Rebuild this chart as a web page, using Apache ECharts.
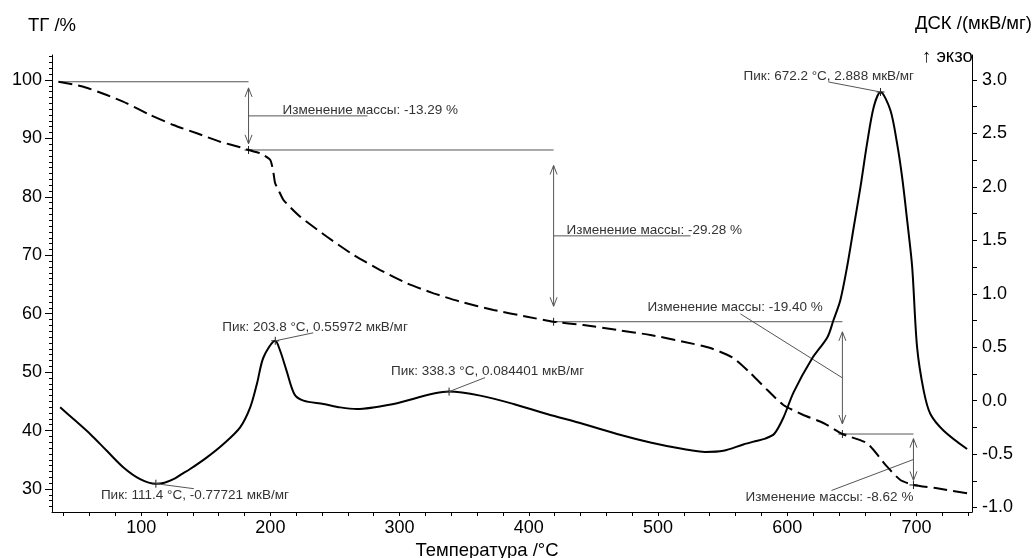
<!DOCTYPE html>
<html>
<head>
<meta charset="utf-8">
<script src="https://cdn.jsdelivr.net/npm/echarts@6.0.0/dist/echarts.min.js"></script>
<style>
  html, body { margin: 0; padding: 0; background: #fff; }
  #chart { width: 1034px; height: 558px; }
</style>
</head>
<body>
<div id="chart"></div>
<script>
// ---- Thermogravimetric curve (ТГ, %) ----
const tgTemps = [36.0, 55.3, 73.4, 88.9, 107.0, 125.0, 143.1, 161.2, 176.6, 183.1, 192.1, 199.9, 202.4, 203.7, 206.3, 210.2, 223.1, 243.8, 264.4, 285.0, 305.7, 326.3, 347.0, 372.7, 398.6, 419.2, 442.2, 468.5, 494.1, 519.6, 540.5, 558.3, 571.5, 584.6, 597.0, 612.5, 628.0, 642.7, 661.8, 677.3, 687.6, 697.7, 716.0, 739.2];
const tgValues = [99.7, 98.85, 97.43, 96.01, 94.01, 92.30, 90.88, 89.44, 88.48, 88.02, 87.45, 86.31, 84.08, 82.32, 81.17, 79.46, 76.60, 73.18, 70.05, 67.48, 65.20, 63.49, 62.06, 60.64, 59.49, 58.63, 58.07, 57.21, 56.36, 55.21, 54.13, 52.42, 49.85, 46.94, 44.38, 42.67, 41.30, 39.41, 37.82, 33.82, 31.54, 30.69, 30.12, 29.26];

// ---- DSC curve (мкВ/мг) ----
const dscTemps = [37.3, 47.6, 60.5, 73.4, 86.3, 99.2, 111.4, 118.0, 125.0, 131.0, 137.9, 150.9, 163.7, 176.6, 184.4, 189.6, 194.7, 203.8, 207.5, 212.5, 218.5, 225.6, 241.1, 254.1, 267.0, 295.3, 338.3, 362.4, 388.2, 414.1, 442.2, 468.3, 494.1, 519.6, 536.7, 550.6, 566.0, 575.0, 583.0, 590.0, 597.0, 605.0, 619.0, 631.1, 635.7, 641.1, 646.3, 651.5, 656.7, 661.8, 667.0, 672.2, 679.8, 685.0, 688.9, 692.8, 696.7, 700.5, 705.6, 710.8, 721.1, 739.2];
const dscValues = [-0.063, -0.172, -0.312, -0.469, -0.625, -0.734, -0.77721, -0.768, -0.735, -0.690, -0.640, -0.531, -0.406, -0.250, -0.063, 0.157, 0.406, 0.55972, 0.469, 0.281, 0.063, 0.0, -0.031, -0.063, -0.078, -0.031, 0.084401, 0.047, -0.031, -0.125, -0.218, -0.312, -0.391, -0.453, -0.480, -0.469, -0.410, -0.380, -0.355, -0.310, -0.160, 0.080, 0.390, 0.593, 0.750, 0.940, 1.250, 1.625, 2.000, 2.407, 2.750, 2.888, 2.719, 2.407, 2.093, 1.688, 1.250, 0.500, 0.094, -0.125, -0.281, -0.453];

// ---- DSC peaks ----
const peakTemps = [111.4, 203.8, 338.3, 672.2];
const peakValues = [-0.77721, 0.55972, 0.084401, 2.888];

// ---- Mass-loss steps ----
const stepTemps = [183.1, 419.2, 642.7, 697.7];
const stepLevels = [99.7, 88.02, 58.63, 39.41, 30.69];
const stepChanges = ['-13.29', '-29.28', '-19.40', '-8.62'];

// ---- Axis ticks ----
const xLabelTicks = [100, 200, 300, 400, 500, 600, 700];
const xMinorTicks = [40, 60, 80, 100, 120, 140, 160, 180, 200, 220, 240, 260, 280, 300, 320, 340, 360, 380, 400, 420, 440, 460, 480, 500, 520, 540, 560, 580, 600, 620, 640, 660, 680, 700, 720, 740];
const tgLabelTicks = [30, 40, 50, 60, 70, 80, 90, 100];
const tgMinorTicks = [27, 28, 29, 31, 32, 33, 34, 35, 36, 37, 38, 39, 41, 42, 43, 44, 45, 46, 47, 48, 49, 51, 52, 53, 54, 55, 56, 57, 58, 59, 61, 62, 63, 64, 65, 66, 67, 68, 69, 71, 72, 73, 74, 75, 76, 77, 78, 79, 81, 82, 83, 84, 85, 86, 87, 88, 89, 91, 92, 93, 94, 95, 96, 97, 98, 99, 101, 102, 103, 104];
const dscLabelTicks = [-1.0, -0.5, 0.0, 0.5, 1.0, 1.5, 2.0, 2.5, 3.0];
const dscMinorTicks = [-1.0, -0.75, -0.5, -0.25, 0.0, 0.25, 0.5, 0.75, 1.0, 1.25, 1.5, 1.75, 2.0, 2.25, 2.5, 2.75, 3.0];

// ---- Styles / layout ----
const FONT = '"Liberation Sans", Arial, sans-serif';
const annColor = '#555';
const annText = '#333';
const annFont = '13.5px ' + FONT;

// label placement relative to each step's arrow midpoint (pixels)
const stepLayout = [
  { kind: 'under', dx: 34, len: 119 },
  { kind: 'under', dx: 13, len: 137 },
  { kind: 'slant', tx: -195, ty: -64, va: 'bottom', lx: -102, ly: -64 },
  { kind: 'slant', tx: -168, ty: 31, va: 'top', lx: -82, ly: 31 }
];
// label placement relative to each peak mark (pixels)
const peakLayout = [
  { tx: -55, ty: 5, va: 'top', lx: 38, ly: 5 },
  { tx: -53, ty: -7, va: 'bottom', lx: 38, ly: -8 },
  { tx: -58, ty: -13, va: 'bottom', lx: 36, ly: -14 },
  { tx: -137, ty: -9, va: 'bottom', lx: -52, ly: -10 }
];

function seg(x1, y1, x2, y2, color) {
  return { type: 'line', shape: { x1, y1, x2, y2 }, style: { stroke: color || annColor, lineWidth: 1 } };
}
function cross(x, y) {
  return [seg(x - 4, y, x + 4, y, '#222'), seg(x, y - 4, x, y + 4, '#222')];
}
function label(text, x, y, va) {
  return { type: 'text', style: { text, x, y, fill: annText, font: annFont, align: 'left', verticalAlign: va } };
}

function renderStep(params, api) {
  const i = params.dataIndex;
  const t = stepTemps[i];
  const top = api.coord([t, stepLevels[i]]);
  const bot = api.coord([t, stepLevels[i + 1]]);
  const x = top[0];
  const children = [];
  if (i === 0) {
    const s = api.coord([tgTemps[0], stepLevels[0]]);
    children.push(seg(s[0], s[1], x, top[1]));
  }
  if (i + 1 < stepTemps.length) {
    const e = api.coord([stepTemps[i + 1], stepLevels[i + 1]]);
    children.push(seg(x, bot[1], e[0], bot[1]));
  }
  const h = bot[1] - top[1];
  const inset = 0.09 * h;
  const a = top[1] + inset, b = bot[1] - inset;
  children.push(seg(x, a, x, b));
  children.push({ type: 'polyline', shape: { points: [[x - 3.5, a + 9], [x, a], [x + 3.5, a + 9]] }, style: { stroke: annColor, fill: null, lineWidth: 1 } });
  children.push({ type: 'polyline', shape: { points: [[x - 3.5, b - 9], [x, b], [x + 3.5, b - 9]] }, style: { stroke: annColor, fill: null, lineWidth: 1 } });
  children.push(...cross(x, bot[1]));
  const my = (top[1] + bot[1]) / 2;
  const L = stepLayout[i];
  const txt = 'Изменение массы: ' + stepChanges[i] + ' %';
  if (L.kind === 'under') {
    children.push(seg(x, my, x + L.len, my));
    children.push(label(txt, x + L.dx, my + 1, 'bottom'));
  } else {
    children.push(seg(x, my, x + L.lx, my + L.ly));
    children.push(label(txt, x + L.tx, my + L.ty, L.va));
  }
  return { type: 'group', children };
}

function renderPeak(params, api) {
  const i = params.dataIndex;
  const p = api.coord([peakTemps[i], peakValues[i]]);
  const L = peakLayout[i];
  const txt = 'Пик: ' + peakTemps[i] + ' °C, ' + peakValues[i] + ' мкВ/мг';
  return {
    type: 'group',
    children: [
      ...cross(p[0], p[1]),
      seg(p[0], p[1], p[0] + L.lx, p[1] + L.ly),
      label(txt, p[0] + L.tx, p[1] + L.ty, L.va)
    ]
  };
}

const zip = (a, b) => a.map((v, i) => [v, b[i]]);
const axisText = { color: '#000', fontSize: 18, fontFamily: FONT };

const chart = echarts.init(document.getElementById('chart'), null, { renderer: 'canvas' });
chart.setOption({
  animation: false,
  backgroundColor: '#fff',
  grid: { left: 52, right: 62, top: 55, bottom: 46, containLabel: false, outerBoundsMode: 'none' },
  xAxis: {
    type: 'value', min: 31, max: 743,
    axisLine: { show: true, onZero: false, lineStyle: { color: '#000', width: 1 } },
    axisTick: { show: true, customValues: xMinorTicks, length: 4, lineStyle: { color: '#000' } },
    axisLabel: { customValues: xLabelTicks, margin: 7, ...axisText },
    splitLine: { show: false },
    name: 'Температура /°C', nameLocation: 'middle', nameGap: 28,
    nameTextStyle: { ...axisText, fontSize: 18.5, padding: [0, 50, 0, 0] }
  },
  yAxis: [
    {
      type: 'value', position: 'left', min: 26.064, max: 104.279,
      axisLine: { show: true, onZero: false, lineStyle: { color: '#000', width: 1 } },
      axisTick: { show: true, customValues: tgLabelTicks, length: 7, lineStyle: { color: '#000' } },
      axisLabel: { customValues: tgLabelTicks, margin: 10, ...axisText },
      splitLine: { show: false }
    },
    {
      type: 'value', position: 'right', min: -1.042, max: 3.234,
      axisLine: { show: true, onZero: false, lineStyle: { color: '#000', width: 1 } },
      axisTick: { show: true, customValues: dscMinorTicks, length: 5, lineStyle: { color: '#000' } },
      axisLabel: { customValues: dscLabelTicks, margin: 10, formatter: v => v.toFixed(1), ...axisText },
      splitLine: { show: false }
    },
    {
      type: 'value', position: 'left', min: 26.064, max: 104.279,
      axisLine: { show: false, onZero: false },
      axisTick: { show: true, customValues: tgMinorTicks, length: 3, lineStyle: { color: '#000' } },
      axisLabel: { show: false },
      splitLine: { show: false }
    }
  ],
  graphic: [
    { type: 'text', left: 28, top: 16, style: { text: 'ТГ /%', fill: '#000', font: '18.5px ' + FONT } },
    { type: 'text', right: 2, top: 14, style: { text: 'ДСК /(мкВ/мг)', fill: '#000', font: '18.5px ' + FONT } },
    { type: 'text', left: 922, top: 47, style: { text: '↑ экзо', fill: '#000', font: '18.5px ' + FONT } }
  ],
  series: [
    {
      name: 'ТГ', type: 'line', yAxisIndex: 0, data: zip(tgTemps, tgValues),
      smooth: 0.2, showSymbol: false, z: 3,
      lineStyle: { color: '#000', width: 2, type: [14, 6] }
    },
    {
      name: 'ДСК', type: 'line', yAxisIndex: 1, data: zip(dscTemps, dscValues),
      smooth: 0.3, showSymbol: false, z: 3,
      lineStyle: { color: '#000', width: 2 }
    },
    {
      type: 'custom', yAxisIndex: 0, clip: false, z: 2,
      data: stepTemps.map((t, i) => [t, stepLevels[i + 1]]),
      encode: { x: 0, y: 1 },
      renderItem: renderStep
    },
    {
      type: 'custom', yAxisIndex: 1, clip: false, z: 4,
      data: zip(peakTemps, peakValues),
      encode: { x: 0, y: 1 },
      renderItem: renderPeak
    }
  ]
});
</script>
</body>
</html>
